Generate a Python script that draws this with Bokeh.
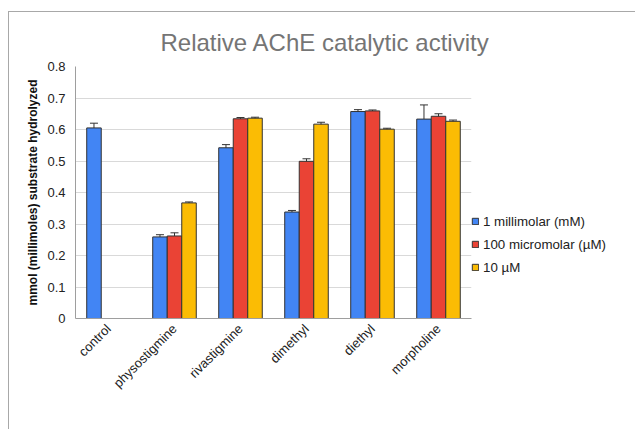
from bokeh.plotting import figure
from bokeh.models import (ColumnDataSource, FactorRange, Whisker, TeeHead, Legend, LegendItem,
                          FixedTicker, NumeralTickFormatter)
from bokeh.transform import dodge
from bokeh.embed import file_html
from bokeh.resources import INLINE
import math

categories = ["control", "physostigmine", "rivastigmine", "dimethyl", "diethyl", "morpholine"]
series_names = ["1 millimolar (mM)", "100 micromolar (\u00b5M)", "10 \u00b5M"]
mm1 = [0.605, 0.259, 0.542, 0.338, 0.657, 0.633]
mm1_err = [0.015, 0.007, 0.010, 0.005, 0.006, 0.045]
um100 = [None, 0.262, 0.634, 0.499, 0.659, 0.642]
um100_err = [None, 0.010, 0.004, 0.008, 0.003, 0.008]
um10 = [None, 0.367, 0.636, 0.617, 0.601, 0.626]
um10_err = [None, 0.003, 0.003, 0.006, 0.003, 0.004]
y_ticks = [0, 0.1, 0.2, 0.3, 0.4, 0.5, 0.6, 0.7, 0.8]

colors = ["#4285F4", "#EA4335", "#FBBC04"]
offsets = [-0.22, 0.0, 0.22]
FONT = "Liberation Sans"

p = figure(width=626, height=417, frame_width=396, frame_height=252,
           x_range=FactorRange(*categories, range_padding=0),
           y_range=(0, 0.8), output_backend="svg", toolbar_location=None,
           min_border_left=66, min_border_right=21, min_border_top=54, min_border_bottom=111)
p.styles = {"margin-left": "8px", "margin-top": "11px",
            "border-left": "1px solid #a8a8a8", "border-top": "1px solid #a8a8a8"}

p.title.text = "Relative AChE catalytic activity"
p.title.text_font = FONT
p.title.text_font_size = "24px"
p.title.text_font_style = "normal"
p.title.text_color = "#757575"
p.title.align = "left"
p.title.offset = 85
p.title.standoff = 22

items = []
for vals, errs, col, off, name in zip([mm1, um100, um10], [mm1_err, um100_err, um10_err],
                                      colors, offsets, series_names):
    cats = [c for c, v in zip(categories, vals) if v is not None]
    tops = [v for v in vals if v is not None]
    es = [e for e, v in zip(errs, vals) if v is not None]
    src = ColumnDataSource(dict(cat=cats, top=tops,
                                upper=[t + e for t, e in zip(tops, es)],
                                lower=[t - e for t, e in zip(tops, es)]))
    r = p.vbar(x=dodge("cat", off, range=p.x_range), top="top", width=0.22, source=src,
               fill_color=col, line_color="#333333", line_width=1)
    w = Whisker(base=dodge("cat", off, range=p.x_range), upper="upper", lower="lower", source=src,
                line_color="#333333", line_width=1,
                upper_head=TeeHead(size=8, line_color="#333333", line_width=1),
                lower_head=TeeHead(size=8, line_color="#333333", line_width=1))
    p.add_layout(w)
    items.append(LegendItem(label=name, renderers=[r]))

legend = Legend(items=items, location="top_left", padding=0, margin=0, spacing=3,
                glyph_width=8, glyph_height=8, label_standoff=4, label_height=20,
                title=" ", title_text_font_size="1px", title_standoff=144,
                border_line_color=None, background_fill_alpha=0,
                label_text_font=FONT, label_text_font_size="13.3px", label_text_color="#222222")
p.add_layout(legend, "right")

p.yaxis.ticker = FixedTicker(ticks=y_ticks)
p.yaxis.formatter = NumeralTickFormatter(format="0.[0]")
p.yaxis.axis_label = "mmol (millimoles) substrate hydrolyzed"
p.yaxis.axis_label_text_font = FONT
p.yaxis.axis_label_text_font_size = "12px"
p.yaxis.axis_label_text_font_style = "bold"
p.yaxis.axis_label_text_color = "#111111"
p.yaxis.axis_label_standoff = 4
p.yaxis.major_label_standoff = 10

for ax in (p.xaxis, p.yaxis):
    ax.major_tick_in = 0
    ax.major_tick_out = 0
    ax.minor_tick_in = 0
    ax.minor_tick_out = 0
    ax.axis_line_color = "#9e9e9e"
    ax.major_label_text_font = FONT
    ax.major_label_text_font_size = "13px"
    ax.major_label_text_color = "#222222"

p.xaxis.major_label_orientation = math.pi / 4
p.xaxis.major_label_standoff = 8

p.xgrid.grid_line_color = None
p.ygrid.grid_line_color = "#d9d9d9"
p.ygrid.ticker = FixedTicker(ticks=y_ticks)
p.outline_line_color = None

open("out.html", "w").write(file_html(p, INLINE))
